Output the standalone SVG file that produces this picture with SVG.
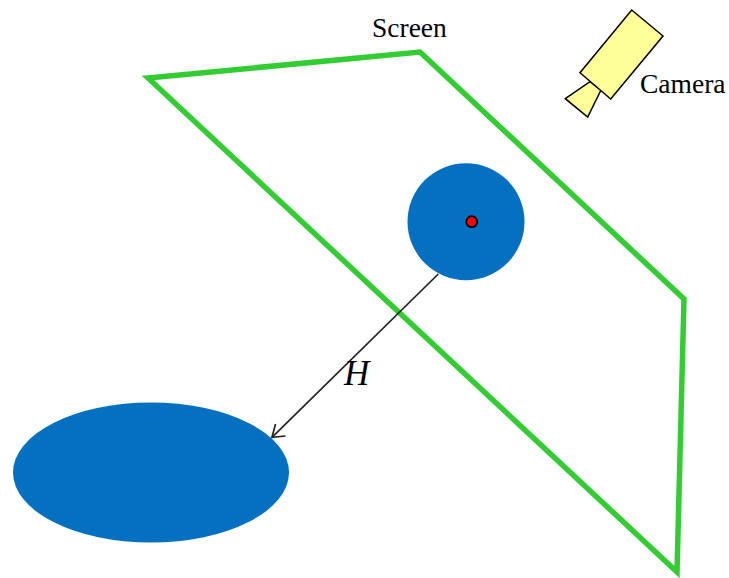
<svg xmlns="http://www.w3.org/2000/svg" width="729" height="578" viewBox="0 0 729 578">
<style>
.t{font-family:"Liberation Serif","Times New Roman",serif;fill:#000}
.cam{fill:#ffff99;stroke:#000;stroke-width:1.5;stroke-linejoin:miter}
.blue{fill:#0570c0}
</style>
<rect width="729" height="578" fill="#fff"/>
<g id="shadow"><ellipse class="blue" cx="151" cy="472.5" rx="138" ry="70"/></g>
<g id="screen"><polygon points="148,78 420,52 684,299 677,572" fill="none" stroke="#33cc33" stroke-width="5.5" stroke-linejoin="miter"/>
<text class="t" x="372" y="37" font-size="27.5">Screen</text></g>
<g id="ball"><circle class="blue" cx="466" cy="221.7" r="58.5"/>
<circle cx="471.7" cy="221.7" r="5.5" fill="#ff0000" stroke="#000" stroke-width="1.8"/></g>
<g id="camera"><polygon class="cam" points="565.3,98.7 590,81.7 601,90 587.7,117"/>
<polygon class="cam" points="631.7,10 663,36 610.7,99 580,72.7"/>
<text class="t" x="640" y="93" font-size="27.5">Camera</text></g>
<g id="connectors" fill="none" stroke="#222" stroke-width="1.7"><path d="M438.3,274 L272,437.3"/><path d="M275.5,424 L272,437.3 L285.5,436"/></g>
<text class="t" x="344" y="384.5" font-size="35" font-style="italic">H</text>
</svg>
